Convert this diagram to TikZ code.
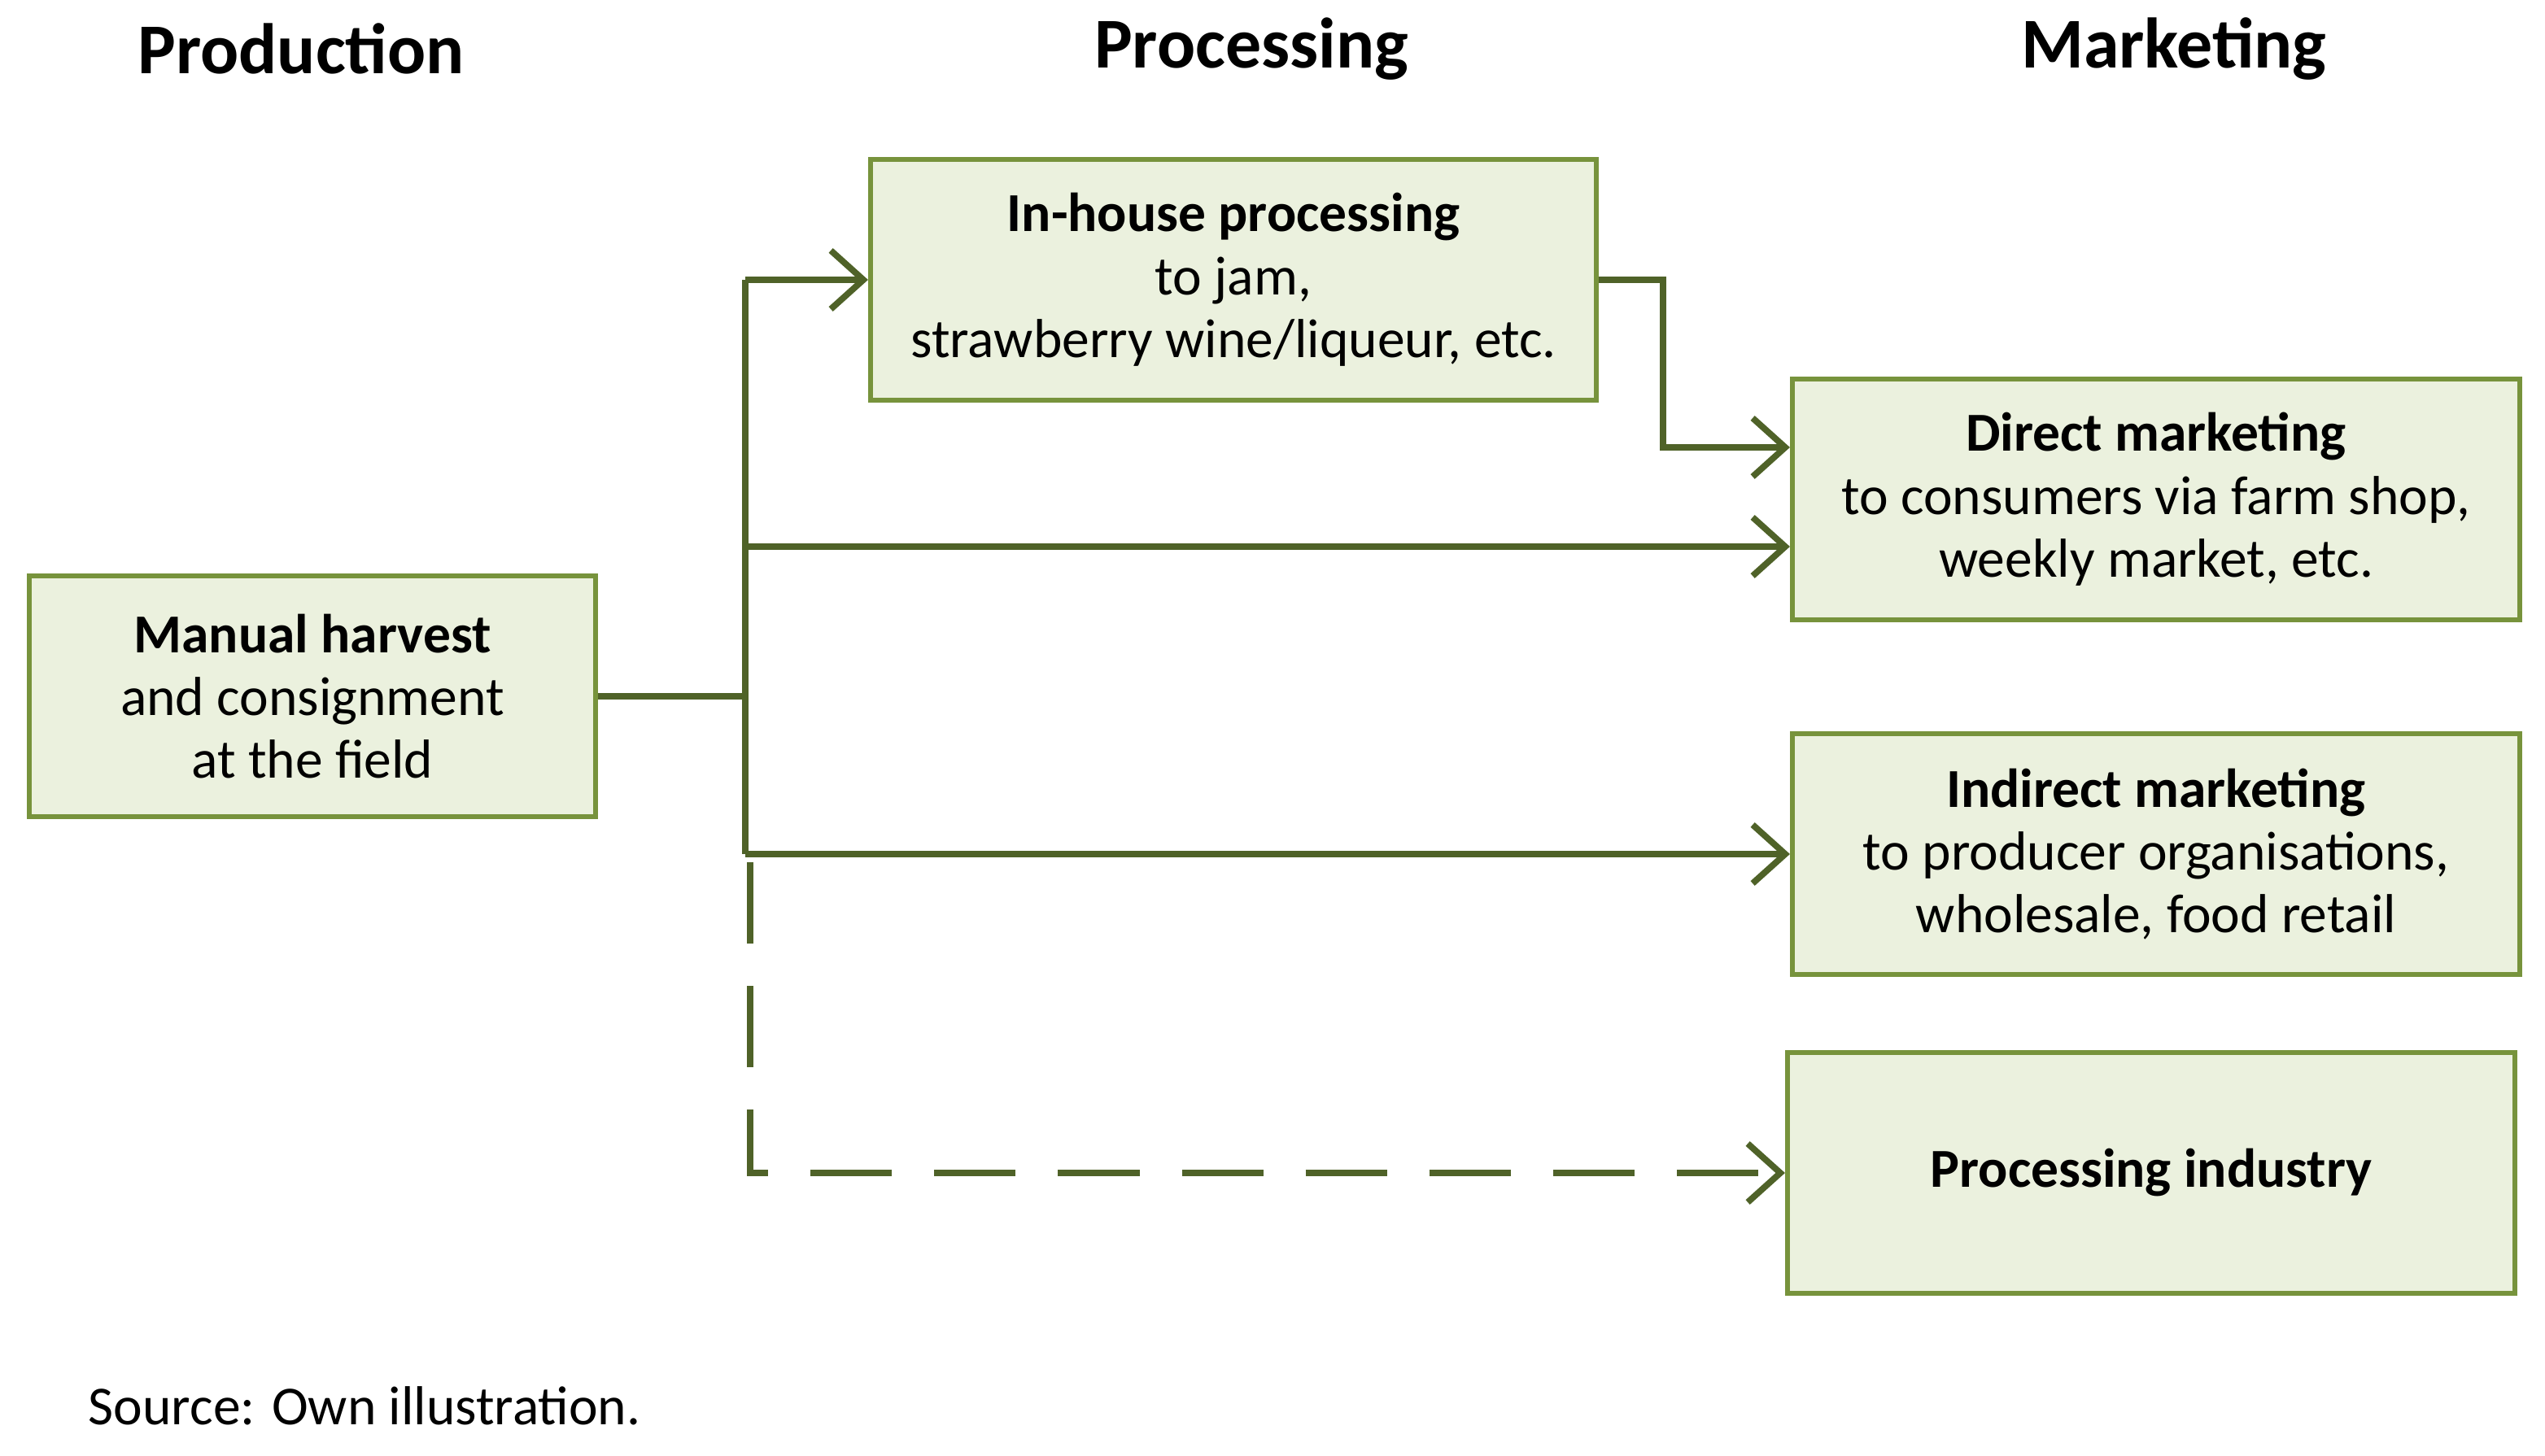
\documentclass[tikz,border=0pt]{standalone}
\usepackage{fontspec}
\setmainfont{Carlito}
\usetikzlibrary{arrows.meta}
\definecolor{boxfill}{HTML}{EBF1DE}
\definecolor{boxline}{HTML}{77933C}
\definecolor{flowline}{HTML}{4F6228}
\begin{document}
\begin{tikzpicture}[x=0.01cm,y=-0.01cm,
    stage/.style={rectangle,draw=boxline,fill=boxfill,line width=0.8pt,
        minimum width=4.47cm,minimum height=1.48cm,align=center,
        font=\fontsize{9.6}{11}\selectfont},
    head/.style={font=\fontsize{12.5}{14}\selectfont\bfseries},
    flow/.style={draw=flowline,line width=1.1pt,-{Straight Barb[length=2mm,width=3.6mm]}}]
    \useasboundingbox (0,0) rectangle (1564,895);
    % Column headings
    \node[head] (hprod) at (185,30) {Production};
    \node[head] (hproc) at (769,30) {Processing};
    \node[head] (hmark) at (1336,30) {Marketing};
    % Stages
    \node[stage,minimum width=3.48cm] (harvest) at (192,428)
        {\textbf{Manual harvest}\\and consignment\\at the field};
    \node[stage,minimum width=4.46cm] (inhouse) at (758,172)
        {\textbf{In-house processing}\\to jam,\\strawberry wine/liqueur, etc.};
    \node[stage] (direct) at (1325,307)
        {\textbf{Direct marketing}\\to consumers via farm shop,\\weekly market, etc.};
    \node[stage] (indirect) at (1325,525)
        {\textbf{Indirect marketing}\\to producer organisations,\\wholesale, food retail};
    \node[stage] (industry) at (1322,721) {\textbf{Processing industry}};
    % Branching lines
    \coordinate (split) at (458,428);
    \coordinate (top) at (458,172);
    \coordinate (mid) at (458,336);
    \coordinate (low) at (458,525);
    \coordinate (dtop) at (461,530);
    \coordinate (dlow) at (461,721);
    \coordinate (bend) at (1022,172);
    \coordinate (bendlow) at (1022,275);
    \draw[draw=flowline,line width=1.1pt] (harvest.east) -- (split);
    \draw[draw=flowline,line width=1.1pt] (top) -- (low);
    \draw[flow] (top) -- (inhouse.west);
    \draw[flow] (mid) -- (mid-|direct.west);
    \draw[flow] (low) -- (indirect.west);
    \draw[flow,dashed,dash pattern=on 5mm off 2.6mm] (dtop) -- (dlow) -- (industry.west);
    \draw[flow] (inhouse.east) -- (bend) -- (bendlow) -- (bendlow-|direct.west);
    % Source
    \node[anchor=west,font=\fontsize{9.6}{11}\selectfont] (source) at (42,864) {Source: Own illustration.};
\end{tikzpicture}
\end{document}
